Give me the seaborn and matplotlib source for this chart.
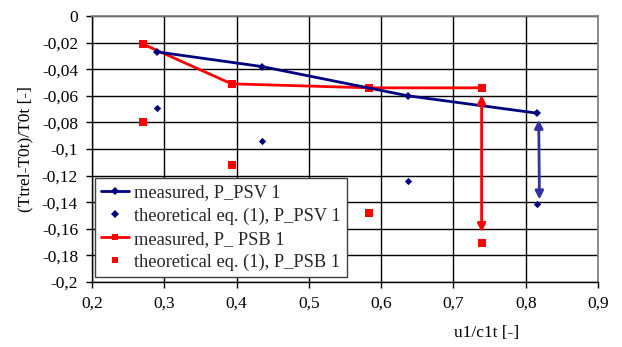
import matplotlib
matplotlib.use("Agg")
import matplotlib.pyplot as plt
import seaborn as sns
import pandas as pd
from matplotlib.ticker import FuncFormatter, MultipleLocator
from matplotlib.lines import Line2D

# Data
psv_x = [0.290, 0.435, 0.637, 0.815]
psv_meas = [-0.027, -0.038, -0.060, -0.073]
psv_theo = [-0.069, -0.094, -0.124, -0.141]

psb_x = [0.270, 0.393, 0.583, 0.739]
psb_meas = [-0.021, -0.051, -0.054, -0.054]
psb_theo = [-0.080, -0.112, -0.148, -0.171]

labels = ["measured, P_PSV 1", "theoretical eq. (1), P_PSV 1",
          "measured, P_ PSB 1", "theoretical eq. (1), P_PSB 1"]

sns.set_theme(style="white")
plt.rcParams['font.family'] = ['Liberation Serif', 'DejaVu Serif']

NAVY = "#000080"
RED = "#FF0000"

fig = plt.figure(figsize=(6.22, 3.47), dpi=100)
ax = fig.add_axes([92/622, 1-282/347, (598-92)/622, (282-16)/347])

df_v = pd.DataFrame({"x": psv_x, "meas": psv_meas, "theo": psv_theo})
df_b = pd.DataFrame({"x": psb_x, "meas": psb_meas, "theo": psb_theo})

sns.lineplot(data=df_v, x="x", y="meas", ax=ax, color=NAVY, lw=2,
             marker="D", markersize=4, markeredgewidth=0, sort=False, zorder=4)
sns.scatterplot(data=df_v, x="x", y="theo", ax=ax, color=NAVY, marker="D",
                s=14, linewidth=0, zorder=4)
sns.lineplot(data=df_b, x="x", y="meas", ax=ax, color=RED, lw=2,
             marker="s", markersize=6, markeredgewidth=0, sort=False, zorder=3)
sns.scatterplot(data=df_b, x="x", y="theo", ax=ax, color=RED, marker="s",
                s=36, linewidth=0, zorder=3)

# double-headed arrows between measured and theoretical at last point
ax.annotate("", xy=(psb_x[-1], psb_theo[-1] + 0.0085), xytext=(psb_x[-1], psb_meas[-1] - 0.0055),
            arrowprops=dict(arrowstyle="<|-|>", color=RED, lw=2, mutation_scale=12,
                            shrinkA=0, shrinkB=0), zorder=5)
ax.annotate("", xy=(psv_x[-1] + 0.004, psv_theo[-1] + 0.003), xytext=(psv_x[-1] + 0.003, psv_meas[-1] - 0.005),
            arrowprops=dict(arrowstyle="<|-|>", color="#333399", lw=2, mutation_scale=12,
                            shrinkA=0, shrinkB=0), zorder=5)

ax.set_xlim(0.2, 0.9)
ax.set_ylim(-0.2, 0)
ax.xaxis.set_major_locator(MultipleLocator(0.1))
ax.yaxis.set_major_locator(MultipleLocator(0.02))

def fmt(v, pos):
    s = f"{v:.2f}".rstrip("0").rstrip(".")
    if s in ("-0", "0."):
        s = "0"
    return s.replace(".", ",")

ax.xaxis.set_major_formatter(FuncFormatter(fmt))
ax.yaxis.set_major_formatter(FuncFormatter(fmt))

ax.grid(True, color="black", lw=1)
ax.set_axisbelow(True)
for side in ["top", "right"]:
    ax.spines[side].set_color("#808080")
for side in ["left", "bottom"]:
    ax.spines[side].set_color("black")
    ax.spines[side].set_linewidth(1)
ax.tick_params(axis="both", direction="out", length=4, width=1, color="black",
               labelsize=12.5, labelcolor="black", left=True, bottom=True, pad=6)

ax.set_xlabel("u1/c1t [-]", fontsize=12.5, color="black", labelpad=8)
ax.set_ylabel("(Ttrel-T0t)/T0t [-]", fontsize=12.5, color="black", labelpad=6)
ax.xaxis.set_label_coords(0.78, -0.16)

handles = [
    Line2D([], [], color=NAVY, lw=2, marker="D", markersize=4, markeredgewidth=0),
    Line2D([], [], color=NAVY, lw=0, marker="D", markersize=4, markeredgewidth=0),
    Line2D([], [], color=RED, lw=2, marker="s", markersize=5, markeredgewidth=0),
    Line2D([], [], color=RED, lw=0, marker="s", markersize=5, markeredgewidth=0),
]
leg = ax.legend(handles, labels, loc="lower left", bbox_to_anchor=(0.006, 0.018),
                fontsize=13.2, frameon=True, fancybox=False, framealpha=1,
                edgecolor="#404040", handlelength=1.5, handletextpad=0.3,
                labelspacing=0.32, borderpad=0.35, borderaxespad=0)
leg.get_frame().set_linewidth(1)

fig.savefig("out.png", dpi=100)
